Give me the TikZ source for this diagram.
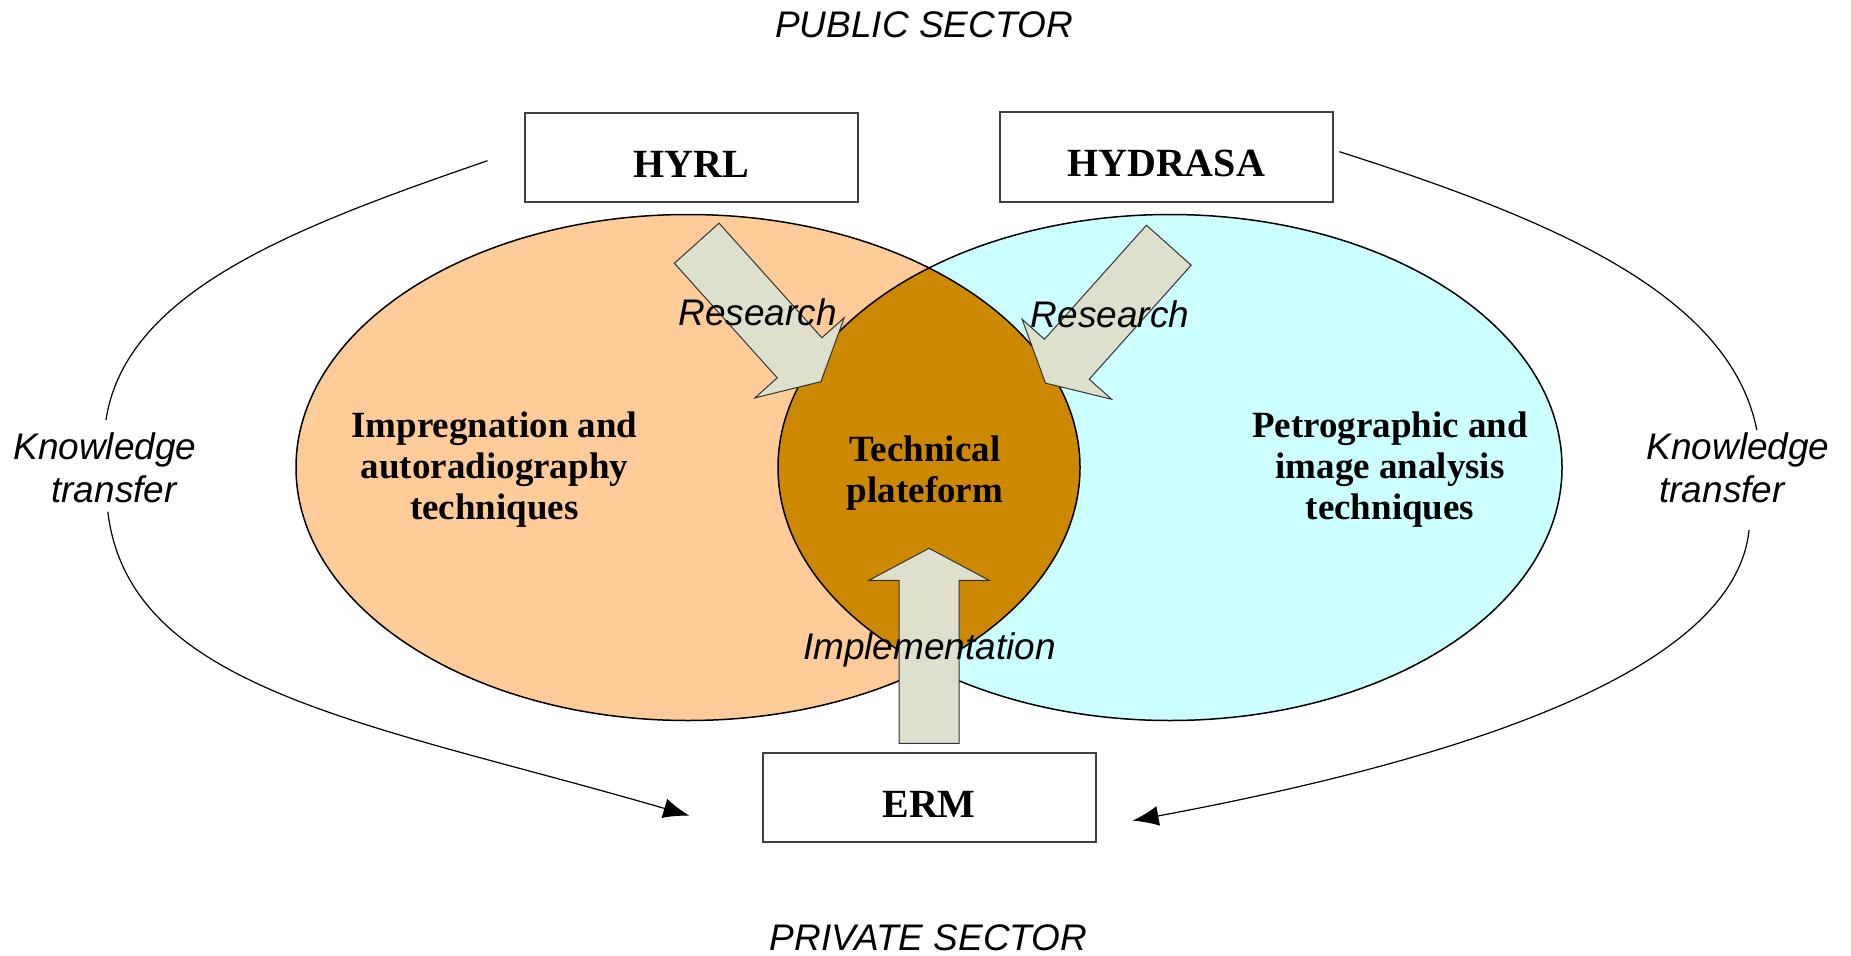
\documentclass[tikz,border=0pt]{standalone}
\usepackage{fontspec}
\setmainfont{Liberation Serif}
\setsansfont{Liberation Sans}
\usetikzlibrary{arrows.meta}

\definecolor{impregcol}{RGB}{255,204,153}
\definecolor{petrocol}{RGB}{204,255,255}
\definecolor{platecol}{RGB}{204,136,0}
\definecolor{arrowcol}{RGB}{221,224,204}
\definecolor{boxline}{RGB}{64,64,64}

\tikzset{
  partner/.style={draw=boxline, line width=2pt, minimum width=333pt, minimum height=89pt,
    text height=40pt, font=\fontsize{40}{48}\selectfont\bfseries},
  field/.style={align=center, font=\fontsize{37}{41}\selectfont\bfseries},
  flowlabel/.style={align=center, font=\fontsize{37}{43}\selectfont\sffamily\itshape},
  bigarrow/.style={fill=arrowcol, draw=black!80, line width=1pt},
  transfer/.style={line width=1.2pt, -{Latex[length=26pt,width=20pt]}},
}

\begin{document}
\begin{tikzpicture}[x=1pt, y=-1pt]
      \useasboundingbox (0,0) rectangle (1851,955);
      \def\rx{392}
      \def\ry{253}
      \coordinate (impc) at (688,467.5);
      \coordinate (petc) at (1170,467.5);

      % the two fields and the shared platform
      \fill[impregcol] (impc) ellipse [x radius=\rx, y radius=\ry];
      \fill[petrocol] (petc) ellipse [x radius=\rx, y radius=\ry];
      \begin{scope}
        \clip (impc) ellipse [x radius=\rx, y radius=\ry];
        \fill[platecol] (petc) ellipse [x radius=\rx, y radius=\ry];
      \end{scope}
      \foreach \c in {impc, petc}
        \draw[line width=1.5pt] (\c) ellipse [x radius=\rx, y radius=\ry];

      \node[partner] (hyrl) at (691.5,157.5) {HYRL};
      \node[partner] (hydrasa) at (1166,157) {HYDRASA};
      \node[partner] (erm) at (929,797.4) {ERM};

      % block arrows: tail x/y, angle, length
      \foreach \x/\y/\a/\l in {696.7/243.2/-48.1/186, 1168.8/245.2/-131.8/185, 929/743.3/90/195}
        \draw[bigarrow, shift={(\x,\y)}, rotate=\a]
          (0,-30) -- ({\l-32},-30) -- ({\l-32},-60) -- (\l,0) -- ({\l-32},60) -- ({\l-32},30) -- (0,30) -- cycle;

      \node[field] (imp) at (494.5,470) {Impregnation and\\autoradiography\\techniques};
      \node[field] (tech) at (925,472.8) {Technical\\plateform};
      \node[field] (pet) at (1390,470) {Petrographic and\\image analysis\\techniques};

      \node[flowlabel] (res-l) at (757.5,312.7) {Research};
      \node[flowlabel] (res-r) at (1110,314.5) {Research};
      \node[flowlabel] (impl) at (929.5,650) {Implementation};
      \node[flowlabel] (kt-l) at (105,468) {Knowledge\\\hspace*{18pt}transfer};
      \node[flowlabel] (kt-r) at (1738,468) {Knowledge\\transfer\hspace*{32pt}};
      \node[flowlabel] (public) at (924,25) {PUBLIC SECTOR};
      \node[flowlabel] (private) at (928.5,938) {PRIVATE SECTOR};

      % knowledge transfer, broken round the labels
      \coordinate (kl-start) at (487.5,160.7);
      \coordinate (kl-gap1) at (106,420);
      \coordinate (kl-gap2) at (107.8,511.7);
      \coordinate (kl-end) at (689.4,815.7);
      \coordinate (kr-start) at (1339.4,151.7);
      \coordinate (kr-gap1) at (1756.8,430);
      \coordinate (kr-gap2) at (1749,530);
      \coordinate (kr-end) at (1132.6,820.7);

      \draw[line width=1.2pt] (kl-start) .. controls (298.5,226) and (125.5,290) .. (kl-gap1);
      \draw[transfer] (kl-gap2) .. controls (129.4,691.7) and (372.6,723.3) .. (kl-end);
      \draw[line width=1.2pt] (kr-start) .. controls (1548.8,218.8) and (1729.4,292.8) .. (kr-gap1);
      \draw[transfer] (kr-gap2) .. controls (1734,680) and (1427.5,765.6) .. (kr-end);
\end{tikzpicture}
\end{document}
